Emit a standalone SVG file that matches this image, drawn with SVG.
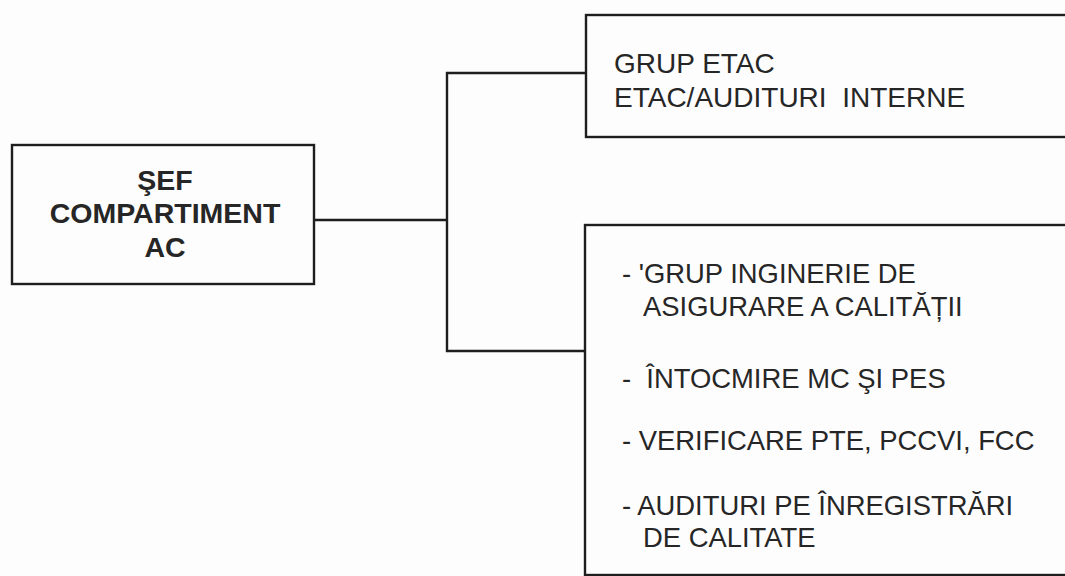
<svg xmlns="http://www.w3.org/2000/svg" width="1065" height="576" viewBox="0 0 1065 576">
<style>
.box{fill:none;stroke:#1e1e1e;stroke-width:2.4}
.conn{fill:none;stroke:#1e1e1e;stroke-width:2.4}
.t{font-family:"Liberation Sans",Arial,sans-serif;font-size:28px;fill:#262626}
.s{font-size:27.4px}
.b{font-family:"Liberation Sans",Arial,sans-serif;font-size:28.5px;font-weight:bold;fill:#262626}
</style>
<rect x="0" y="0" width="1065" height="576" fill="#fdfdfd"/>
<g id="connectors">
<line class="conn" x1="314" y1="220" x2="447" y2="220"/>
<polyline class="conn" points="586,73 447,73 447,351 586,351"/>
</g>
<g id="node-sef">
<rect class="box" x="12" y="145" width="302" height="139"/>
<text class="b" x="165" y="190" text-anchor="middle">ŞEF</text>
<text class="b" x="165" y="223" text-anchor="middle">COMPARTIMENT</text>
<text class="b" x="165" y="257" text-anchor="middle">AC</text>
</g>
<g id="node-etac">
<rect class="box" x="586" y="15" width="490" height="122"/>
<text class="t" x="614" y="73">GRUP ETAC</text>
<text class="t" x="614" y="107" xml:space="preserve">ETAC/AUDITURI  INTERNE</text>
</g>
<g id="node-inginerie">
<rect class="box" x="585" y="225" width="490" height="350"/>
<text class="t s" x="622" y="283" xml:space="preserve">- 'GRUP INGINERIE DE</text>
<text class="t s" x="643" y="316">ASIGURARE A CALITĂȚII</text>
<text class="t s" x="622" y="388" xml:space="preserve">-  ÎNTOCMIRE MC ŞI PES</text>
<text class="t s" x="622" y="450">- VERIFICARE PTE, PCCVI, FCC</text>
<text class="t s" x="622" y="515">- AUDITURI PE ÎNREGISTRĂRI</text>
<text class="t s" x="643" y="547">DE CALITATE</text>
</g>
</svg>
